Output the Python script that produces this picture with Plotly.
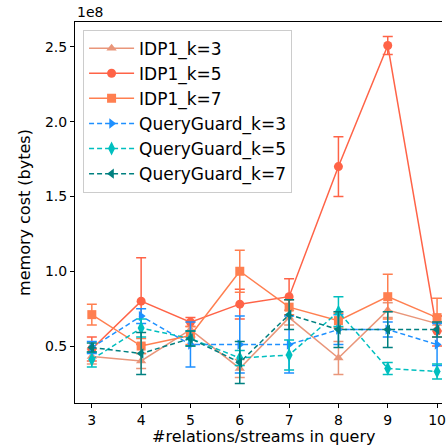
import plotly.graph_objects as go

x_vals = [3, 4, 5, 6, 7, 8, 9, 10]

idp1_k3 = [0.43, 0.40, 0.61, 0.35, 0.69, 0.42, 0.74, 0.65]
idp1_k3_err = [0.05, 0.05, 0.05, 0.06, 0.05, 0.11, 0.05, 0.05]
idp1_k5 = [0.48, 0.80, 0.66, 0.78, 0.83, 1.70, 2.51, 0.60]
idp1_k5_err = [0.08, 0.29, 0.03, 0.10, 0.12, 0.20, 0.06, 0.10]
idp1_k7 = [0.71, 0.50, 0.57, 1.00, 0.76, 0.67, 0.83, 0.69]
idp1_k7_err = [0.07, 0.05, 0.06, 0.14, 0.05, 0.05, 0.15, 0.13]
qg_k3 = [0.49, 0.70, 0.51, 0.51, 0.51, 0.61, 0.61, 0.51]
qg_k3_err = [0.04, 0.05, 0.15, 0.19, 0.19, 0.10, 0.05, 0.14]
qg_k5 = [0.41, 0.62, 0.55, 0.42, 0.44, 0.73, 0.35, 0.33]
qg_k5_err = [0.05, 0.06, 0.05, 0.05, 0.10, 0.10, 0.04, 0.05]
qg_k7 = [0.49, 0.45, 0.55, 0.39, 0.71, 0.61, 0.61, 0.61]
qg_k7_err = [0.03, 0.14, 0.05, 0.14, 0.10, 0.12, 0.12, 0.05]

scale = 1e8
y_ticks = [0.5, 1.0, 1.5, 2.0, 2.5]
y_tick_labels = ["0.5", "1.0", "1.5", "2.0", "2.5"]

series = [
    ("IDP1_k=3", idp1_k3, idp1_k3_err, "#E9967A", "triangle-up", "solid"),
    ("IDP1_k=5", idp1_k5, idp1_k5_err, "#FF6347", "circle", "solid"),
    ("IDP1_k=7", idp1_k7, idp1_k7_err, "#FF7F50", "square", "solid"),
    ("QueryGuard_k=3", qg_k3, qg_k3_err, "#1E90FF", "triangle-right", "dash"),
    ("QueryGuard_k=5", qg_k5, qg_k5_err, "#00BFBF", "diamond-tall", "dash"),
    ("QueryGuard_k=7", qg_k7, qg_k7_err, "#008080", "triangle-left", "dash"),
]

fig = go.Figure()
for name, vals, errs, color, sym, dash in series:
    fig.add_trace(go.Scatter(
        x=x_vals,
        y=[v * scale for v in vals],
        error_y=dict(type="data", array=[e * scale for e in errs], visible=True,
                     color=color, thickness=1.5, width=5),
        mode="lines+markers",
        name=name,
        line=dict(color=color, width=1.5, dash="5px,3px" if dash == "dash" else "solid"),
        marker=dict(symbol=sym, size=9 if sym != "diamond-tall" else 10, color=color,
                    line=dict(width=0)),
    ))

fig.update_layout(
    width=446, height=448,
    margin=dict(l=75, r=0, t=22, b=45),
    plot_bgcolor="white", paper_bgcolor="white",
    font=dict(family="DejaVu Sans", size=14, color="black"),
    showlegend=True,
    legend=dict(
        x=0.022, y=0.98, xanchor="left", yanchor="top",
        bgcolor="rgba(255,255,255,0.8)", bordercolor="#cccccc", borderwidth=1,
        font=dict(size=17, family="DejaVu Sans"),
        tracegroupgap=0, itemwidth=45,
    ),
    xaxis=dict(
        range=[2.659, 10.10],
        tickmode="array", tickvals=x_vals, ticktext=[str(v) for v in x_vals],
        ticks="outside", ticklen=4, tickcolor="black",
        showline=True, linecolor="black", linewidth=1, mirror=True,
        showgrid=False, zeroline=False,
        tickfont=dict(size=14),
        ticklabeloverflow="allow",
    ),
    yaxis=dict(
        range=[0.119e8, 2.667e8],
        tickmode="array", tickvals=[t * scale for t in y_ticks], ticktext=y_tick_labels,
        ticks="outside", ticklen=4, tickcolor="black",
        showline=True, linecolor="black", linewidth=1, mirror=False,
        showgrid=False, zeroline=False,
        tickfont=dict(size=14),
        title=dict(text="memory cost (bytes)", font=dict(size=16), standoff=10),
    ),
)

fig.add_annotation(text="1e8", xref="paper", yref="paper", x=0.0, y=1.0,
                   xanchor="left", yanchor="bottom", showarrow=False,
                   font=dict(size=14), yshift=0)
fig.add_annotation(text="#relations/streams in query", xref="paper", yref="paper",
                   x=(266 - 75) / 371, y=0, xanchor="center", yanchor="top",
                   yshift=-22, showarrow=False, font=dict(size=16))

fig.write_html("out.html")
